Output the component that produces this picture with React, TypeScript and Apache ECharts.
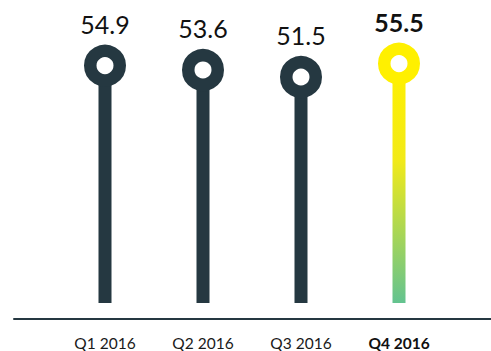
import React, { useEffect, useRef } from "react";
import * as echarts from "echarts";

const categories: string[] = ["Q1 2016", "Q2 2016", "Q3 2016", "Q4 2016"];
const values: number[] = [54.9, 53.6, 51.5, 55.5];
const highlightIndex = 3;
const Y_MIN = -16;
const Y_MAX = 74.5;

const DARK = "#253841";
const YELLOW = "#fff000";

export default function App() {
  const ref = useRef<HTMLDivElement>(null);
  useEffect(() => {
    if (!ref.current) return;
    const chart = echarts.init(ref.current, null, { renderer: "svg" });
    const option: any = {
      animation: false,
      backgroundColor: "#ffffff",
      grid: [
        { left: 56, right: 43, top: 0, bottom: 32 },
        { left: 14, right: 0, top: 0, bottom: 32 },
      ],
      xAxis: [
        {
          type: "category",
          gridIndex: 0,
          data: categories,
          axisLine: { show: false },
          axisTick: { show: false },
          axisLabel: {
            interval: 0,
            hideOverlap: false,
            margin: 32,
            fontFamily: "Lato",
            fontSize: 15.5,
            color: "#1a1a1a",
            formatter: (v: string, i: number) =>
              i === highlightIndex ? "{b|" + v + "}" : v,
            rich: {
              b: { fontFamily: "Lato", fontSize: 15.5, fontWeight: "bold", color: "#111" },
            },
          },
        },
        {
          type: "category",
          gridIndex: 1,
          data: [""],
          axisLine: { show: true, lineStyle: { color: DARK, width: 2 } },
          axisTick: { show: false },
          axisLabel: { show: false },
        },
      ],
      yAxis: [
        { type: "value", gridIndex: 0, min: Y_MIN, max: Y_MAX, show: false },
        { type: "value", gridIndex: 1, min: 0, max: 1, show: false },
      ],
      series: [
        {
          type: "custom",
          xAxisIndex: 0,
          yAxisIndex: 0,
          data: values.map((v, i) => [i, v]),
          renderItem: (params: any, api: any) => {
            const idx = api.value(0);
            const val = api.value(1);
            const top = api.coord([idx, val]);
            const base = api.coord([idx, Y_MIN]);
            const hi = idx === highlightIndex;
            const stickFill = hi
              ? new echarts.graphic.LinearGradient(0, 0, 0, 1, [
                  { offset: 0, color: YELLOW },
                  { offset: 0.4, color: "#f2ea18" },
                  { offset: 1, color: "#63c390" },
                ])
              : DARK;
            const ringColor = hi ? YELLOW : DARK;
            return {
              type: "group",
              children: [
                {
                  type: "rect",
                  shape: { x: top[0] - 6.5, y: top[1], width: 13, height: base[1] - top[1] },
                  style: { fill: stickFill },
                },
                {
                  type: "circle",
                  shape: { cx: top[0], cy: top[1], r: 14.75 },
                  style: { fill: "#ffffff", stroke: ringColor, lineWidth: 12.5 },
                },
                {
                  type: "text",
                  x: top[0],
                  y: top[1] - 42,
                  style: {
                    text: String(val),
                    fontFamily: "Lato",
                    fontSize: 25,
                    fontWeight: hi ? "bold" : "normal",
                    fill: "#111111",
                    align: "center",
                    verticalAlign: "middle",
                  },
                },
              ],
            };
          },
        },
      ],
    };
    chart.setOption(option);
    return () => chart.dispose();
  }, []);
  return (
    <div
      ref={ref}
      style={{ position: "absolute", left: 0, top: 0, width: 491, height: 351 }}
    />
  );
}
